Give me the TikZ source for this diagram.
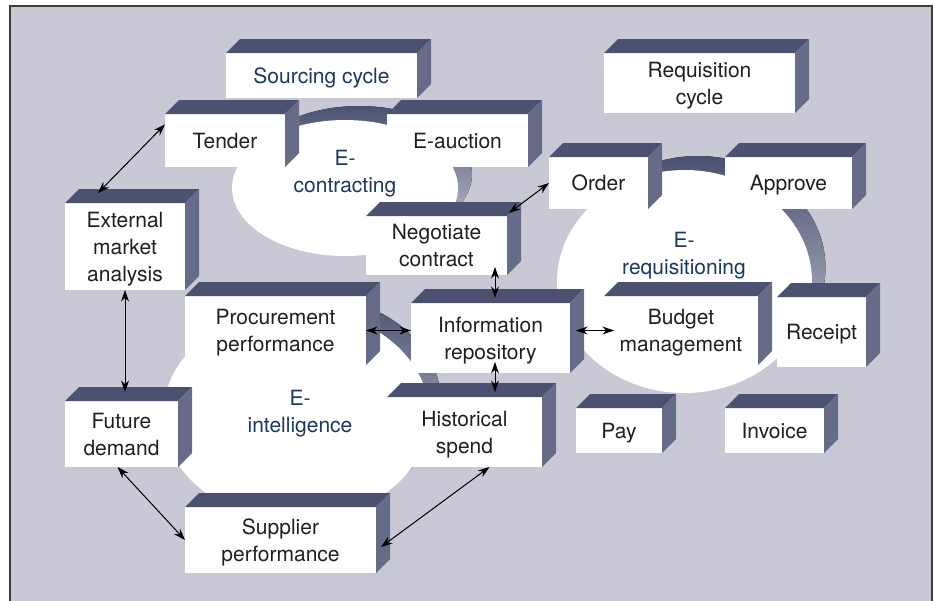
\documentclass[tikz,border=0pt]{standalone}
\usepackage{fontspec}
\setmainfont{TeX Gyre Heros}
\usetikzlibrary{arrows.meta}

\definecolor{bgcol}{RGB}{201,201,214}
\definecolor{topface}{RGB}{74,82,112}
\definecolor{sideface}{RGB}{102,108,136}
\definecolor{labelblue}{RGB}{28,56,94}
\definecolor{framecol}{RGB}{60,60,60}

% mặt trên và mặt bên của một hộp
\newcommand{\boxfaces}[1]{%
	\fill[topface] (#1.north west) -- ++(14,-14) -- ([shift={(14,-14)}]#1.north east) -- (#1.north east) -- cycle;
	\fill[sideface] (#1.north east) -- ++(14,-14) -- ([shift={(14,-14)}]#1.south east) -- (#1.south east) -- cycle;}

\begin{document}
\begin{tikzpicture}[x=0.5pt, y=-0.5pt, >={Stealth[length=5.8pt,width=4pt]},
	hop/.style={fill=white, inner sep=0pt, outer sep=0pt, align=center, text=black!88,
		text depth=0pt, font=\fontsize{10.5}{13.5}\selectfont},
	cycle label/.style={align=center, text=labelblue, text depth=0pt,
		font=\fontsize{10.5}{13.5}\selectfont},
	link/.style={<->, line width=0.5pt}]
	
	\useasboundingbox (0,0) rectangle (934,601);
	
	% --- NỀN VÀ KHUNG ---
	\fill[bgcol] (10,6) rectangle (932,601);
	\draw[framecol, line width=1pt] (10,601) -- (10,6) -- (932,6) -- (932,601);
	
	% --- BA VÒNG (bóng tối phía sau, đĩa trắng phía trước) ---
	\fill[top color=topface, bottom color=bgcol] (359,174) ellipse [x radius=113, y radius=68];
	\fill[top color=topface, bottom color=bgcol] (698,267.5) ellipse [x radius=127.5, y radius=111.5];
	\fill[top color=topface, bottom color=bgcol] (309,402) ellipse [x radius=132, y radius=106];
	\fill[white] (345,188) ellipse [x radius=113, y radius=68];
	\fill[white] (684.5,281.5) ellipse [x radius=127.5, y radius=111.5];
	\fill[white] (296,415) ellipse [x radius=133, y radius=106];
	
	\node[cycle label] (econtracting) at (345,171) {E-\\contracting};
	\node[cycle label] (erequisitioning) at (684,253) {E-\\requisitioning};
	\node[cycle label] (eintelligence) at (300,411) {E-\\intelligence};
	
	% --- CÁC HỘP ---
	\node[hop, minimum width=95.5pt, minimum height=22.5pt, text=labelblue] (sourcing) at (321.5,75.5) {Sourcing cycle};
	\node[hop, minimum width=95.5pt, minimum height=30pt] (requisition) at (699.5,83) {Requisition\\cycle};
	\node[hop, minimum width=60pt, minimum height=26.5pt] (tender) at (225,140.5) {Tender};
	\node[hop, minimum width=70.5pt, minimum height=26.5pt] (eauction) at (457.5,140.5) {E-auction};
	\node[hop, minimum width=49.5pt, minimum height=26pt] (order) at (598.5,183) {Order};
	\node[hop, minimum width=63.5pt, minimum height=26pt] (approve) at (788.5,183) {Approve};
	\node[hop, minimum width=60pt, minimum height=43.5pt] (external) at (125,246.5) {External\\market\\analysis};
	\node[hop, minimum width=70.5pt, minimum height=29.5pt] (negotiate) at (436.5,245.5) {Negotiate\\contract};
	\node[hop, minimum width=90.5pt, minimum height=34.5pt] (procurement) at (275.5,330.5) {Procurement\\performance};
	\node[hop, minimum width=79.5pt, minimum height=35pt] (info) at (490.5,338) {Information\\repository};
	\node[hop, minimum width=77pt, minimum height=34.5pt] (budget) at (681,330.5) {Budget\\management};
	\node[hop, minimum width=44.5pt, minimum height=35pt] (receipt) at (821.5,332) {Receipt};
	\node[hop, minimum width=56.5pt, minimum height=33pt] (demand) at (121.5,434) {Future\\demand};
	\node[hop, minimum width=77.5pt, minimum height=35pt] (historical) at (464.5,432) {Historical\\spend};
	\node[hop, minimum width=43pt, minimum height=22.5pt] (pay) at (619,430.5) {Pay};
	\node[hop, minimum width=49.5pt, minimum height=22.5pt] (invoice) at (774.5,430.5) {Invoice};
	\node[hop, minimum width=95.5pt, minimum height=33pt] (supplier) at (280.5,540) {Supplier\\performance};
	
	\foreach \n in {sourcing,requisition,tender,eauction,order,approve,external,negotiate,
		procurement,info,budget,receipt,demand,historical,pay,invoice,supplier}
	{\boxfaces{\n}}
	
	% --- MŨI TÊN HAI CHIỀU ---
	\draw[link] ([shift={(-27,-10)}]external.north) -- (tender.165);
	\draw[link] (external.south) -- ([shift={(0,-9)}]external.south |- demand.north);
	\draw[link] ([shift={(-4,0)}]demand.south) -- (supplier.west);
	\draw[link] ([shift={(5,7)}]supplier.east) -- ([shift={(25,0)}]historical.south);
	\draw[link] (procurement.east) -- (procurement.east -| info.west);
	\draw[link] ([shift={(6,0)}]info.east |- budget.west) -- ([shift={(10,0)}]budget.west);
	\draw[link] ([shift={(4.5,-8)}]info.north |- negotiate.south) -- ([shift={(4.5,-5)}]info.north);
	\draw[link] ([shift={(4.5,-11)}]info.south) -- ([shift={(30.5,-5)}]historical.north);
	\draw[link] ([shift={(2,-3)}]negotiate.north east) -- (order.west);
\end{tikzpicture}
\end{document}
